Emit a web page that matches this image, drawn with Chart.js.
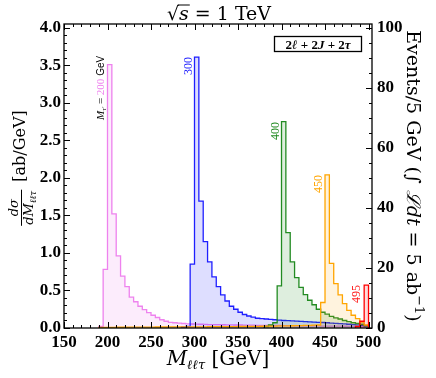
<!DOCTYPE html>
<html>
<head>
<meta charset="utf-8">
<script src="https://cdn.jsdelivr.net/npm/chart.js@4.4.0/dist/chart.umd.min.js"></script>
<style>
html, body { margin: 0; padding: 0; background: #fff; }
</style>
</head>
<body>
<canvas id="plot" width="436" height="378"></canvas>
<script>
// histogram bins are 5 GeV wide, values in ab/GeV (left axis)
const binWidth = 5
const eventsPerUnit = 25 // 5 GeV * 5 ab^-1

// M = 200 GeV, bins from 190 GeV
const start200 = 190
const sigma200 = [0.02, 0.78, 3.51, 1.52, 0.96, 0.69, 0.55, 0.41, 0.35, 0.29,
	0.245, 0.205, 0.17, 0.14, 0.11, 0.09, 0.075, 0.07, 0.065, 0.06,
	0.055, 0.053, 0.052, 0.05, 0.048, 0.046, 0.045, 0.044, 0.043, 0.042,
	0.041, 0.04, 0.04, 0.039, 0.038, 0.037, 0.036, 0.036, 0.035, 0.034,
	0.033, 0.033, 0.032, 0.031, 0.031, 0.03, 0.03, 0.029, 0.028, 0.028,
	0.027, 0.026, 0.026, 0.025, 0.024, 0.024, 0.023, 0.022, 0.021, 0.02,
	0.018, 0.015]

// M = 300 GeV, bins from 285 GeV
const start300 = 285
const sigma300 = [0.01, 0.02, 0.85, 3.61, 1.69, 1.15, 0.88, 0.68, 0.55, 0.44,
	0.36, 0.29, 0.25, 0.21, 0.18, 0.16, 0.145, 0.13, 0.125, 0.12,
	0.115, 0.11, 0.105, 0.10, 0.097, 0.094, 0.091, 0.088, 0.085, 0.082,
	0.079, 0.076, 0.073, 0.07, 0.066, 0.062, 0.058, 0.054, 0.05, 0.046,
	0.042, 0.036, 0.025]

// M = 400 GeV, bins from 380 GeV
const start400 = 380
const sigma400 = [0.02, 0.04, 0.07, 0.56, 2.75, 1.27, 0.88, 0.67, 0.54, 0.445,
	0.37, 0.31, 0.25, 0.21, 0.185, 0.155, 0.135, 0.12, 0.10, 0.085,
	0.07, 0.06, 0.05, 0.03]

// M = 450 GeV, bins from 190 GeV
const start450 = 190
const sigma450 = [0.008, 0.008, 0.009, 0.009, 0.01, 0.01, 0.01, 0.011, 0.011, 0.011,
	0.012, 0.012, 0.012, 0.013, 0.013, 0.013, 0.014, 0.014, 0.014, 0.015,
	0.015, 0.015, 0.016, 0.016, 0.016, 0.017, 0.017, 0.018, 0.018, 0.018,
	0.019, 0.019, 0.02, 0.02, 0.021, 0.021, 0.022, 0.023, 0.024, 0.025,
	0.026, 0.027, 0.028, 0.029, 0.03, 0.031, 0.032, 0.034, 0.036, 0.038,
	0.04, 0.34, 2.04, 0.86, 0.59, 0.44, 0.325, 0.235, 0.17, 0.125,
	0.08, 0.04]

// M = 495 GeV, bins from 485 GeV
const start495 = 485
const sigma495 = [0.02, 0.09, 0.57]

const peakLabels = ['200', '300', '400', '450', '495']

const serif = 'Liberation Serif'
const tex = 'DejaVu Serif'

const toSteps = (start, values) => {
	const pts = [{ x: start, y: 0 }]
	values.forEach((v, i) => pts.push({ x: start + i * binWidth, y: v }))
	const end = start + values.length * binWidth
	pts.push({ x: end, y: values[values.length - 1] })
	pts.push({ x: end, y: 0 })
	return pts
}

const series = (start, values, line, fillColor, order) => ({
	data: toSteps(start, values),
	stepped: true,
	borderColor: line,
	backgroundColor: fillColor,
	fill: 'origin',
	borderWidth: 1.3,
	pointRadius: 0,
	order: order,
	yAxisID: 'y'
})

// draw a row of text pieces, optionally rotated
const drawRuns = (ctx, x, y, angle, runs, align) => {
	ctx.save()
	ctx.translate(x, y)
	ctx.rotate(angle)
	ctx.textBaseline = 'alphabetic'
	ctx.textAlign = 'left'
	let w = 0
	runs.forEach(r => { ctx.font = r.f; w += ctx.measureText(r.t).width })
	let cx = align === 'center' ? -w / 2 : 0
	runs.forEach(r => {
		ctx.font = r.f
		ctx.fillStyle = r.c || '#000'
		const rw = ctx.measureText(r.t).width
		ctx.fillText(r.t, cx, r.dy || 0)
		if (r.over) {
			ctx.strokeStyle = r.c || '#000'
			ctx.lineWidth = 1
			ctx.beginPath()
			ctx.moveTo(cx - 1, r.over)
			ctx.lineTo(cx + rw + 1, r.over)
			ctx.stroke()
		}
		cx += rw
	})
	ctx.restore()
}

const framePlugin = {
	id: 'frame',
	afterDraw(chart) {
		const ctx = chart.ctx
		const a = chart.chartArea
		const sx = chart.scales.x
		const sy = chart.scales.y
		const sy2 = chart.scales.y2

		ctx.save()
		ctx.strokeStyle = '#000'
		ctx.lineWidth = 1.3
		ctx.strokeRect(a.left, a.top, a.right - a.left, a.bottom - a.top)

		ctx.lineWidth = 1
		ctx.beginPath()
		for (let v = 150; v <= 500; v += 10) {
			const px = Math.round(sx.getPixelForValue(v)) + 0.5
			const len = v % 50 === 0 ? 6 : 3
			ctx.moveTo(px, a.bottom); ctx.lineTo(px, a.bottom - len)
			ctx.moveTo(px, a.top); ctx.lineTo(px, a.top + len)
		}
		for (let i = 0; i <= 40; i++) {
			const py = Math.round(sy.getPixelForValue(i / 10)) + 0.5
			const len = i % 5 === 0 ? 6 : 3
			ctx.moveTo(a.left, py); ctx.lineTo(a.left + len, py)
		}
		for (let v = 0; v <= 100; v += 5) {
			const py = Math.round(sy2.getPixelForValue(v)) + 0.5
			const len = v % 20 === 0 ? 6 : 3
			ctx.moveTo(a.right, py); ctx.lineTo(a.right - len, py)
		}
		ctx.stroke()

		// peak labels
		const up = -Math.PI / 2
		drawRuns(ctx, 104, 120, up, [
			{ t: 'M', f: `italic 11px ${serif}` },
			{ t: "τ'", f: `italic 7px ${serif}`, dy: 2 },
			{ t: ' = ', f: `11px ${serif}` },
			{ t: peakLabels[0], f: `11px ${serif}`, c: '#ee82ee' },
			{ t: ' GeV', f: '10px Liberation Sans' }
		])
		drawRuns(ctx, 192, 66, up, [{ t: peakLabels[1], f: `12px ${serif}`, c: '#1f1fff' }], 'center')
		drawRuns(ctx, 279, 131, up, [{ t: peakLabels[2], f: `12px ${serif}`, c: '#228b22' }], 'center')
		drawRuns(ctx, 322, 184, up, [{ t: peakLabels[3], f: `12px ${serif}`, c: '#ffa500' }], 'center')
		drawRuns(ctx, 360, 294, up, [{ t: peakLabels[4], f: `12px ${serif}`, c: '#ff2020' }], 'center')

		// channel box
		ctx.lineWidth = 1.3
		ctx.fillStyle = '#fff'
		ctx.fillRect(274.5, 36.5, 87, 15)
		ctx.strokeRect(274.5, 36.5, 87, 15)
		drawRuns(ctx, 318, 48.5, 0, [
			{ t: '2', f: `bold 13px ${serif}` },
			{ t: 'ℓ', f: `italic bold 13px ${serif}` },
			{ t: ' + 2', f: `bold 13px ${serif}` },
			{ t: 'J', f: `italic bold 13px ${serif}` },
			{ t: ' + 2', f: `bold 13px ${serif}` },
			{ t: 'τ', f: `italic bold 13px ${serif}` }
		], 'center')

		// title
		drawRuns(ctx, 219, 20, 0, [
			{ t: '√', f: `19px ${tex}` },
			{ t: 's', f: `italic 19px ${tex}`, over: -15 },
			{ t: ' = 1 TeV', f: `19px ${tex}` }
		], 'center')

		// x axis title
		drawRuns(ctx, 218, 365, 0, [
			{ t: 'M', f: `italic 20px ${tex}` },
			{ t: 'ℓℓτ', f: `italic 13px ${tex}`, dy: 4 },
			{ t: ' [GeV]', f: `20px ${tex}` }
		], 'center')

		// left axis title: fraction + unit
		ctx.save()
		ctx.translate(25, 168)
		ctx.rotate(up)
		ctx.fillStyle = '#000'
		ctx.textBaseline = 'alphabetic'
		ctx.font = `italic 13px ${tex}`
		const numW = ctx.measureText('dσ').width
		const dmW = ctx.measureText('dM').width
		ctx.font = `italic 9px ${tex}`
		const subW = ctx.measureText('ℓℓτ').width
		const fracW = dmW + subW + 2
		ctx.font = `16px ${tex}`
		const unitW = ctx.measureText('[ab/GeV]').width
		const x0 = -(fracW + 8 + unitW) / 2
		ctx.font = `italic 13px ${tex}`
		ctx.fillText('dσ', x0 + (fracW - numW) / 2, -7)
		ctx.fillText('dM', x0 + 1, 8)
		ctx.font = `italic 9px ${tex}`
		ctx.fillText('ℓℓτ', x0 + 1 + dmW, 11)
		ctx.lineWidth = 1
		ctx.beginPath()
		ctx.moveTo(x0, -3.5); ctx.lineTo(x0 + fracW, -3.5)
		ctx.stroke()
		ctx.font = `16px ${tex}`
		ctx.fillText('[ab/GeV]', x0 + fracW + 8, 0)
		ctx.restore()

		// right axis title
		drawRuns(ctx, 407, 176, Math.PI / 2, [
			{ t: 'Events/5 GeV (', f: `19px ${tex}` },
			{ t: '∫ ', f: `19px ${tex}` },
			{ t: 'ℒ', f: `italic 19px ${tex}` },
			{ t: 'dt', f: `italic 19px ${tex}` },
			{ t: ' = 5 ab', f: `19px ${tex}` },
			{ t: '−1', f: `13px ${tex}`, dy: -8 },
			{ t: ')', f: `19px ${tex}` }
		], 'center')
		ctx.restore()
	}
}

const tickFont = { family: serif, size: 17, weight: 'bold' }

new Chart(document.getElementById('plot'), {
	type: 'line',
	data: {
		datasets: [
			series(start200, sigma200, '#ee82ee', 'rgba(238, 130, 238, 0.15)', 5),
			series(start300, sigma300, '#1f1fff', 'rgba(0, 0, 255, 0.13)', 4),
			series(start400, sigma400, '#228b22', 'rgba(34, 139, 34, 0.15)', 3),
			series(start450, sigma450, '#ffa500', 'rgba(255, 165, 0, 0.13)', 2),
			series(start495, sigma495, '#ff0000', 'rgba(255, 0, 0, 0.15)', 1)
		]
	},
	options: {
		responsive: false,
		animation: false,
		layout: { padding: { top: 24, left: 0, right: 0, bottom: 0 } },
		plugins: { legend: { display: false }, tooltip: { enabled: false } },
		scales: {
			x: {
				type: 'linear', min: 150, max: 504,
				grid: { display: false, drawTicks: false },
				border: { display: false },
				ticks: { stepSize: 50, includeBounds: false, autoSkip: false, maxRotation: 0, padding: 4, color: '#000', font: tickFont },
				afterFit: s => { s.height = 50 }
			},
			y: {
				position: 'left', min: 0, max: 4.05,
				grid: { display: false, drawTicks: false },
				border: { display: false },
				ticks: { stepSize: 0.5, includeBounds: false, padding: 3, color: '#000', font: tickFont, callback: v => v.toFixed(1) },
				afterFit: s => { s.width = 64 }
			},
			y2: {
				position: 'right', min: 0, max: 4.05 * eventsPerUnit,
				grid: { display: false, drawTicks: false },
				border: { display: false },
				ticks: { stepSize: 20, includeBounds: false, padding: 5, color: '#000', font: tickFont },
				afterFit: s => { s.width = 64 }
			}
		}
	},
	plugins: [framePlugin]
})
</script>
</body>
</html>
